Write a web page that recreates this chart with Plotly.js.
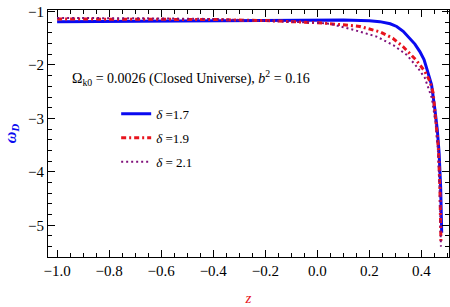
<!DOCTYPE html>
<html>
<head>
<meta charset="utf-8">
<script src="https://cdn.plot.ly/plotly-3.0.1.min.js"></script>
<style>html,body{margin:0;padding:0;background:#fff;}#chart{width:450px;height:307px;}</style>
</head>
<body>
<div id="chart"></div>
<script>
// delta = 1.7 (solid blue)
const zBlue = [-1.0, -0.8, -0.6, -0.4, -0.2, 0.0, 0.1, 0.2, 0.24, 0.28, 0.305, 0.33, 0.356, 0.375, 0.394, 0.41, 0.42, 0.43, 0.439, 0.452, 0.461, 0.468, 0.474, 0.478];
const wBlue = [-1.19, -1.185, -1.18, -1.175, -1.165, -1.16, -1.16, -1.175, -1.19, -1.23, -1.28, -1.37, -1.50, -1.61, -1.75, -1.90, -2.06, -2.22, -2.37, -2.84, -3.21, -3.65, -4.30, -5.14];
// delta = 1.9 (red dash-dot)
const zRed = [-1.0, -0.8, -0.6, -0.4, -0.2, -0.1, 0.0, 0.1, 0.163, 0.24, 0.29, 0.33, 0.38, 0.413, 0.433, 0.445, 0.458, 0.465, 0.471, 0.475];
const wRed = [-1.14, -1.14, -1.14, -1.15, -1.17, -1.19, -1.21, -1.25, -1.28, -1.38, -1.50, -1.66, -1.91, -2.12, -2.31, -2.52, -3.16, -3.55, -4.30, -5.30];
// delta = 2.1 (purple dotted)
const zPurple = [-1.0, -0.8, -0.6, -0.4, -0.2, -0.1, 0.0, 0.048, 0.1, 0.144, 0.228, 0.292, 0.343, 0.387, 0.413, 0.44, 0.455, 0.465, 0.471, 0.475];
const wPurple = [-1.12, -1.12, -1.13, -1.14, -1.17, -1.19, -1.21, -1.23, -1.29, -1.35, -1.47, -1.63, -1.81, -2.06, -2.24, -2.62, -3.10, -3.70, -4.50, -5.40];

const seriesNames = ['<i>δ</i> =1.7', '<i>δ</i> =1.9', '<i>δ</i> = 2.1'];
const noteText = 'Ω<sub>k0</sub> = 0.0026 (Closed Universe), <i>b</i><sup>2</sup> = 0.16';

const serif = "'Liberation Serif', 'Times New Roman', serif";

const traces = [
  {x: zBlue, y: wBlue, name: seriesNames[0], mode: 'lines', legendgroup: 'a',
   line: {color: '#0a0af0', width: 3}},
  {x: zRed, y: wRed, name: seriesNames[1], mode: 'lines', legendgroup: 'b',
   line: {color: '#e8141e', width: 3, dash: '5px,3px,2px,3px'}},
  {x: zPurple, y: wPurple, name: seriesNames[2], mode: 'lines', legendgroup: 'c',
   line: {color: '#80107a', width: 2, dash: '2px,3px'}}
];

const layout = {
  width: 450, height: 307,
  margin: {l: 48, r: 1, t: 10, b: 50},
  paper_bgcolor: '#fff', plot_bgcolor: '#fff',
  font: {family: serif, size: 15, color: '#000'},
  showlegend: true,
  legend: {x: 0.17, y: 0.64, xanchor: 'left', yanchor: 'top',
           bgcolor: 'rgba(0,0,0,0)', font: {family: serif, size: 13},
           traceorder: 'grouped', tracegroupgap: 4, itemwidth: 30},
  xaxis: {range: [-1.035, 0.506], dtick: 0.2, tick0: 0, tickformat: '.1f',
          tickfont: {family: serif, size: 15, color: '#000'},
          showgrid: false, zeroline: false, showline: true, linecolor: '#000', linewidth: 1,
          mirror: 'ticks', ticks: 'inside', ticklen: 7, tickcolor: '#000',
          minor: {ticks: 'inside', dtick: 0.05, ticklen: 4, tickcolor: '#000', showgrid: false},
          title: {text: '<i>z</i>', font: {family: serif, size: 15, color: '#e8141e'}, standoff: 14}},
  yaxis: {range: [-5.594, -0.972], dtick: 1, tick0: 0,
          tickfont: {family: serif, size: 15, color: '#000'},
          showgrid: false, zeroline: false, showline: true, linecolor: '#000', linewidth: 1,
          mirror: 'ticks', ticks: 'inside', ticklen: 7, tickcolor: '#000',
          minor: {ticks: 'inside', dtick: 0.2, ticklen: 4, tickcolor: '#000', showgrid: false},
          title: {text: '<b><i>ω<sub>D</sub></i></b>', font: {family: serif, size: 16, color: '#0a0af0'}, standoff: 7}},
  annotations: [
    {text: noteText, xref: 'paper', yref: 'paper', x: 0.055, y: 0.725,
     xanchor: 'left', yanchor: 'middle', showarrow: false,
     font: {family: serif, size: 14, color: '#000'}}
  ]
};

Plotly.newPlot('chart', traces, layout, {displayModeBar: false, staticPlot: true});
</script>
</body>
</html>
